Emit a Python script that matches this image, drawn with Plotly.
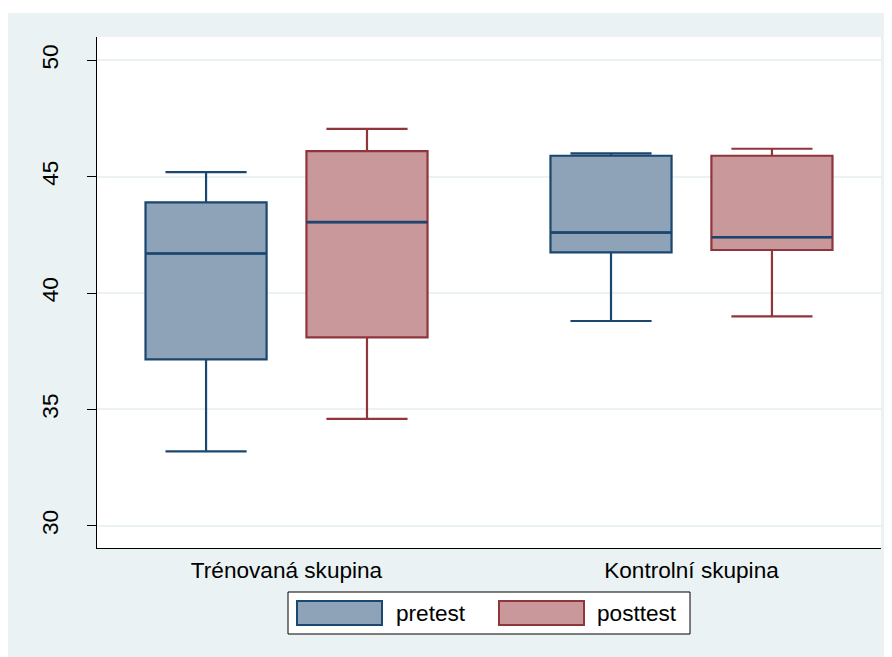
import plotly.graph_objects as go

# ---- data ----
categories = ["Trénovaná skupina", "Kontrolní skupina"]
pre_lower = [33.2, 38.8]
pre_q1 = [37.15, 41.75]
pre_median = [41.7, 42.6]
pre_q3 = [43.9, 45.9]
pre_upper = [45.2, 46.0]

post_lower = [34.6, 39.0]
post_q1 = [38.1, 41.85]
post_median = [43.05, 42.4]
post_q3 = [46.1, 45.9]
post_upper = [47.05, 46.2]

series_names = ["pretest", "posttest"]
y_ticks = [30, 35, 40, 45, 50]

# ---- style ----
W, H = 892, 657
OX, OY = 8, 8  # page body margin
ML, MR, MT, MB = 89, 19, 29, 117
NAVY = "#1a476f"
MAROON = "#90353b"
PRE_FILL = "#8ea3b7"
POST_FILL = "#c8989b"
BG = "#eaf2f3"
FONT = dict(family="Liberation Sans, Arial, sans-serif", size=22.6, color="black")
OFFSET = 0.1987
BOXW = 0.299

PW = W - ML - MR
PH = H - MT - MB


def px_x(p):
    return (p - OX - ML) / PW


def px_y(p):
    return (H - MB - (p - OY)) / PH


fig = go.Figure()

specs = [
    (series_names[0], -OFFSET, pre_lower, pre_q1, pre_median, pre_q3, pre_upper, NAVY, PRE_FILL),
    (series_names[1], OFFSET, post_lower, post_q1, post_median, post_q3, post_upper, MAROON, POST_FILL),
]

for name, off, lo, q1, med, q3, hi, lc, fc in specs:
    xs = [i + off for i in range(len(categories))]
    fig.add_trace(go.Box(
        name=name, x=xs, q1=q1, median=med, q3=q3,
        lowerfence=lo, upperfence=hi, width=BOXW, whiskerwidth=0.67,
        fillcolor=fc, line=dict(color=lc, width=2.2), boxpoints=False,
        showlegend=False,
    ))
    mx, my = [], []
    for x, m in zip(xs, med):
        mx += [x - BOXW / 2, x + BOXW / 2, None]
        my += [m, m, None]
    fig.add_trace(go.Scatter(x=mx, y=my, mode="lines",
                             line=dict(color=NAVY, width=2.6),
                             hoverinfo="skip", showlegend=False))

shapes = [
    # white strip on top
    dict(type="rect", xref="paper", yref="paper", x0=px_x(0), x1=px_x(W + OX),
         y0=px_y(13), y1=px_y(0), fillcolor="white", line=dict(width=0), layer="below"),
    # legend frame
    dict(type="rect", xref="paper", yref="paper", x0=px_x(288), x1=px_x(690),
         y0=px_y(634), y1=px_y(592), fillcolor="white", line=dict(color="black", width=1)),
    dict(type="rect", xref="paper", yref="paper", x0=px_x(297), x1=px_x(382),
         y0=px_y(625), y1=px_y(601), fillcolor=PRE_FILL, line=dict(color=NAVY, width=2)),
    dict(type="rect", xref="paper", yref="paper", x0=px_x(499), x1=px_x(584),
         y0=px_y(625), y1=px_y(601), fillcolor=POST_FILL, line=dict(color=MAROON, width=2)),
]

annotations = [
    dict(text=series_names[0], xref="paper", yref="paper", x=px_x(394), y=px_y(613),
         xanchor="left", yanchor="middle", showarrow=False, font=FONT),
    dict(text=series_names[1], xref="paper", yref="paper", x=px_x(595), y=px_y(613),
         xanchor="left", yanchor="middle", showarrow=False, font=FONT),
]

fig.update_layout(
    width=W, height=H,
    margin=dict(l=ML, r=MR, t=MT, b=MB),
    paper_bgcolor=BG, plot_bgcolor="white",
    font=FONT, showlegend=False,
    boxmode="overlay",
    shapes=shapes, annotations=annotations,
    xaxis=dict(range=[-0.468, 1.468], tickmode="array",
               tickvals=list(range(len(categories))), ticktext=categories,
               showgrid=False, zeroline=False, showline=True, linecolor="black",
               linewidth=1, ticks="outside", ticklen=2, tickcolor="rgba(0,0,0,0)",
               tickfont=FONT),
    yaxis=dict(range=[29.05, 51.0], tickvals=y_ticks, tickangle=-90,
               showgrid=True, gridcolor=BG, gridwidth=2, zeroline=False,
               showline=True, linecolor="black", linewidth=1,
               ticks="outside", ticklen=9, tickcolor="black", tickwidth=1,
               tickfont=FONT, ticklabelstandoff=20),
)

fig.write_html("out.html")
